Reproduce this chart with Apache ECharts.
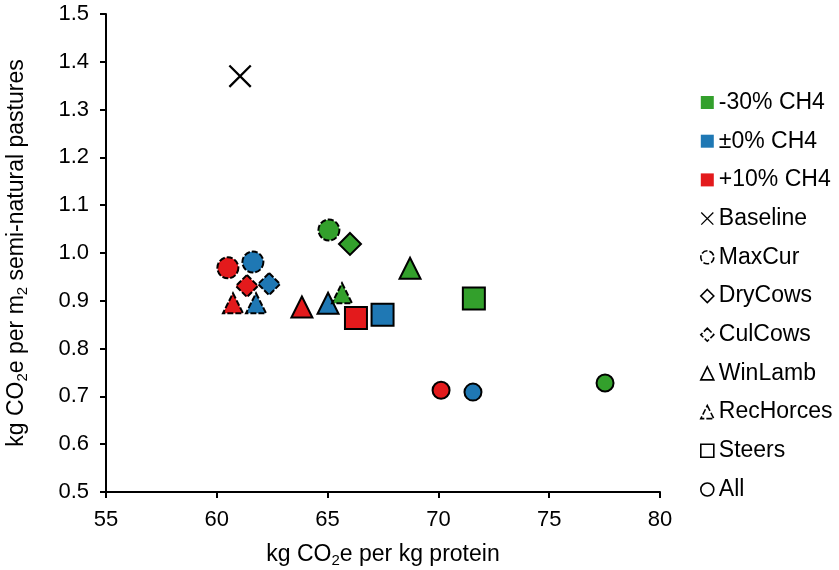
<!DOCTYPE html>
<html>
<head>
<meta charset="utf-8">
<script src="https://cdn.jsdelivr.net/npm/echarts@6/dist/echarts.min.js"></script>
<style>
  html, body { margin: 0; padding: 0; background: #fff; }
  #chart { width: 839px; height: 570px; }
</style>
</head>
<body>
<div id="chart"></div>
<script>
// scenario groups (colour) - order: -30%, ±0%, +10%
const groups = ['-30% CH4', '±0% CH4', '+10% CH4'];
const groupColors = ['#33a02c', '#1f78b4', '#e31a1c'];

// measures (shape); x = kg CO2e per kg protein, y = kg CO2e per m2 semi-natural pastures
const baselineX = [61.05];
const baselineY = [1.37];
const maxCurX = [65.06, 61.63, 60.5];
const maxCurY = [1.048, 0.981, 0.969];
const dryCowsX = [66.01, null, null];
const dryCowsY = [1.019, null, null];
const culCowsX = [null, 62.36, 61.36];
const culCowsY = [null, 0.935, 0.931];
const winLambX = [68.72, 65.02, 63.84];
const winLambY = [0.968, 0.895, 0.887];
const recHorcesX = [65.65, 61.77, 60.73];
const recHorcesY = [0.916, 0.895, 0.895];
const steersX = [71.6, 67.48, 66.28];
const steersY = [0.905, 0.871, 0.864];
const allX = [77.52, 71.56, 70.12];
const allY = [0.728, 0.709, 0.713];

const xTicks = { min: 55, max: 80, interval: 5 };
const yTicks = { min: 0.5, max: 1.5, interval: 0.1 };

const crossPath = 'path://M0,0.7L0.7,0L10,9.3L9.3,10Z M9.3,0L10,0.7L0.7,10L0,9.3Z';
const font = 'Liberation Sans';
const fsTick = 22;
const fsText = 23;

function pts(xs, ys) {
  const out = [];
  xs.forEach((x, i) => {
    if (x == null) return;
    out.push({ value: [x, ys[i]], itemStyle: { color: groupColors[i] } });
  });
  return out;
}

function shapeSeries(name, symbol, size, xs, ys, dashed) {
  return {
    name: name,
    type: 'scatter',
    symbol: symbol,
    symbolSize: size,
    data: pts(xs, ys),
    itemStyle: {
      color: '#fff',
      borderColor: '#000',
      borderWidth: 2,
      borderType: dashed ? [6, 2] : 'solid',
      opacity: 1
    },
    emphasis: { disabled: true }
  };
}

const series = [];
groups.forEach((g, i) => {
  series.push({ name: g, type: 'scatter', data: [], symbol: 'rect', itemStyle: { color: groupColors[i], opacity: 1 } });
});
series.push({
  name: 'Baseline', type: 'scatter', symbol: crossPath, symbolSize: 23,
  data: baselineX.map((x, i) => [x, baselineY[i]]),
  itemStyle: { color: '#000', opacity: 1 }, emphasis: { disabled: true }
});
series.push(shapeSeries('MaxCur', 'circle', 21, maxCurX, maxCurY, true));
series.push(shapeSeries('DryCows', 'diamond', 22, dryCowsX, dryCowsY, false));
series.push(shapeSeries('CulCows', 'diamond', 22, culCowsX, culCowsY, true));
series.push(shapeSeries('WinLamb', 'triangle', 21, winLambX, winLambY, false));
series.push(shapeSeries('RecHorces', 'triangle', 20, recHorcesX, recHorcesY, true));
series.push(shapeSeries('Steers', 'rect', 22, steersX, steersY, false));
series.push(shapeSeries('All', 'circle', 17, allX, allY, false));

const legendData = series.map(s => {
  if (groups.includes(s.name)) return { name: s.name, icon: 'rect', itemStyle: { color: s.itemStyle.color, borderWidth: 0, opacity: 1 } };
  if (s.name === 'Baseline') return { name: s.name, icon: crossPath, itemStyle: { color: '#000', borderWidth: 0, opacity: 1 } };
  return { name: s.name, icon: s.symbol, itemStyle: { color: '#fff', borderColor: '#000', borderWidth: 1.6, borderType: s.itemStyle.borderType, opacity: 1 } };
});

const richName = {
  a: { fontFamily: font, fontSize: fsText, lineHeight: 26, color: '#000' },
  s: { fontFamily: font, fontSize: 15, lineHeight: 15, verticalAlign: 'bottom', color: '#000' }
};

const chart = echarts.init(document.getElementById('chart'));
chart.setOption({
  animation: false,
  textStyle: { fontFamily: font, color: '#000' },
  grid: { left: 106, right: 179, top: 14, bottom: 78, containLabel: false, outerBoundsMode: 'none' },
  legend: {
    orient: 'vertical',
    left: 700,
    top: 90,
    padding: 0,
    itemWidth: 13,
    itemHeight: 13,
    itemGap: 13.7,
    selectedMode: false,
    textStyle: { fontFamily: font, fontSize: fsText, lineHeight: 25, color: '#000' },
    data: legendData
  },
  xAxis: {
    type: 'value',
    min: xTicks.min, max: xTicks.max, interval: xTicks.interval,
    name: '{a|kg CO}{s|2}{a|e per kg protein}',
    nameLocation: 'middle',
    nameGap: 50,
    nameTextStyle: { rich: richName },
    axisLine: { onZero: false, lineStyle: { color: '#000', width: 2 } },
    axisTick: { show: true, inside: false, length: 6, lineStyle: { color: '#000', width: 2 } },
    axisLabel: { fontFamily: font, fontSize: fsTick, color: '#000', margin: 17 },
    splitLine: { show: false }
  },
  yAxis: {
    type: 'value',
    min: yTicks.min, max: yTicks.max, interval: yTicks.interval,
    name: '{a|kg CO}{s|2}{a|e per m}{s|2}{a| semi-natural pastures}',
    nameLocation: 'middle',
    nameRotate: 90,
    nameGap: 76,
    nameTextStyle: { rich: richName },
    axisLine: { show: true, onZero: false, lineStyle: { color: '#000', width: 2 } },
    axisTick: { show: true, inside: false, length: 6, lineStyle: { color: '#000', width: 2 } },
    axisLabel: { fontFamily: font, fontSize: fsTick, color: '#000', margin: 17, formatter: v => v.toFixed(1) },
    splitLine: { show: false }
  },
  series: series
});
</script>
</body>
</html>
